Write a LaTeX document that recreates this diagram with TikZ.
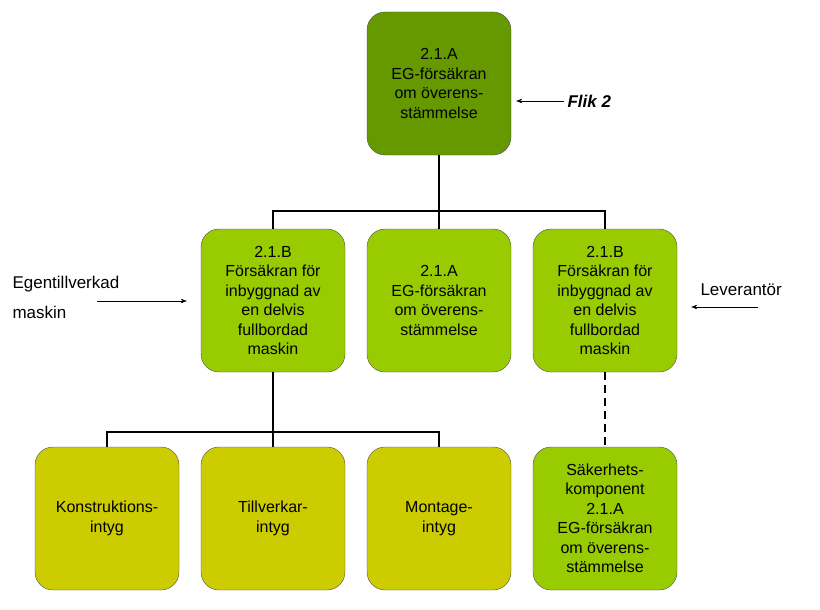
\documentclass[tikz,border=0pt]{standalone}
\usepackage{fontspec}
\setmainfont{Liberation Sans}
\usetikzlibrary{positioning, arrows.meta}
\definecolor{topgreen}{RGB}{102,153,0}
\definecolor{midgreen}{RGB}{153,204,0}
\definecolor{lowyellow}{RGB}{204,204,0}

\begin{document}
\begin{tikzpicture}[
  x=1pt, y=-1pt,
  every node/.style={font=\fontsize{16}{19.5}\selectfont, align=center},
  box/.style={rectangle, draw=black!70, rounded corners=18pt, minimum width=144pt, minimum height=143pt, inner sep=2pt},
  toplevel/.style={box, fill=topgreen},
  midlevel/.style={box, fill=midgreen},
  lowlevel/.style={box, fill=lowyellow},
  tree/.style={draw, line width=2.2pt},
  pointer/.style={draw, -{Stealth[length=6pt]}, thin}
]
\useasboundingbox (0,0) rectangle (820,610);

% boxes
\node[toplevel] (top) at (439,83.5) {2.1.A\\EG-försäkran\\om överens-\\stämmelse};
\node[midlevel] (midA) at (273,300.5) {2.1.B\\Försäkran för\\inbyggnad av\\en delvis\\fullbordad\\maskin};
\node[midlevel] (midB) at (439,300.5) {2.1.A\\EG-försäkran\\om överens-\\stämmelse};
\node[midlevel] (midC) at (605,300.5) {2.1.B\\Försäkran för\\inbyggnad av\\en delvis\\fullbordad\\maskin};
\node[lowlevel] (lowA) at (107,518.5) {Konstruktions-\\intyg};
\node[lowlevel] (lowB) at (273,518.5) {Tillverkar-\\intyg};
\node[lowlevel] (lowC) at (439,518.5) {Montage-\\intyg};
\node[midlevel] (lowD) at (605,518.5) {Säkerhets-\\komponent\\2.1.A\\EG-försäkran\\om överens-\\stämmelse};

% connectors
\coordinate (busA) at (439,211);
\coordinate (busB) at (273,432);
\draw[tree] (top.south) -- (busA);
\draw[tree] (midA.north) |- (busA) -| (midC.north);
\draw[tree] (busA) -- (midB.north);
\draw[tree] (midA.south) -- (busB);
\draw[tree] (lowA.north) |- (busB) -| (lowC.north);
\draw[tree] (busB) -- (lowB.north);
\draw[tree, dash pattern=on 8pt off 5pt] (midC.south) -- (lowD.north);

% side notes
\node[anchor=west, font=\fontsize{17}{20}\selectfont\bfseries\itshape] (flik) at (564,101) {Flik 2};
\node[anchor=west, align=left, font=\fontsize{17}{30}\selectfont] (egen) at (9,297) {Egentillverkad\\maskin};
\node[anchor=west, font=\fontsize{17}{20}\selectfont] (lev) at (697,290) {Leverantör};
\coordinate (egenend) at (97,301);
\coordinate (levend) at (758,307);
\draw[pointer] (flik.west) -- ([xshift=5pt]top.east |- flik.west);
\draw[pointer] (egenend) -- ([xshift=-14pt]midA.west |- egenend);
\draw[pointer] (levend) -- ([xshift=14pt]midC.east |- levend);
\end{tikzpicture}
\end{document}
